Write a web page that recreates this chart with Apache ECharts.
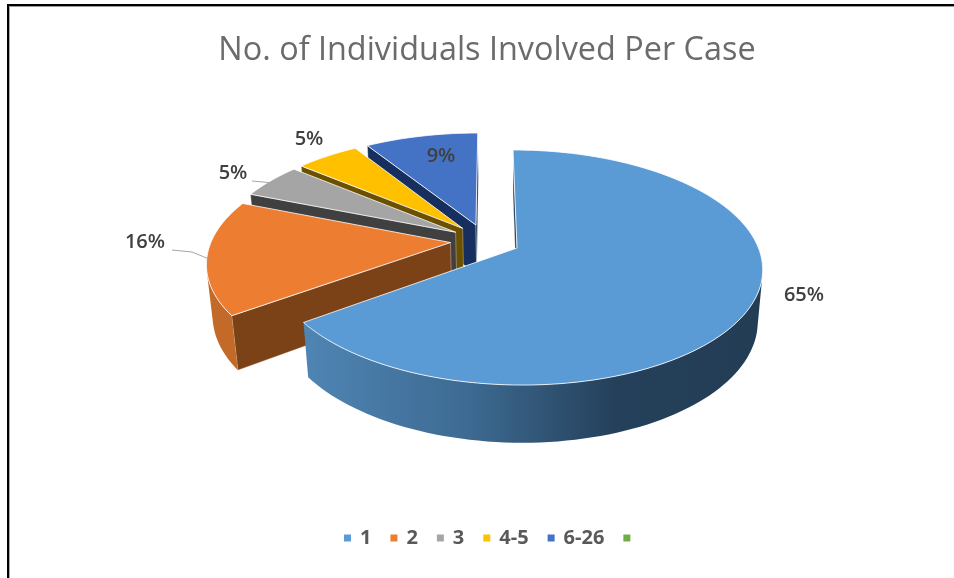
<!DOCTYPE html>
<html>
<head>
	<meta charset="utf-8">
	<title>No. of Individuals Involved Per Case</title>
	<script src="https://cdn.jsdelivr.net/npm/echarts@6/dist/echarts.min.js"></script>
	<style>
		html, body { margin: 0; padding: 0; background: #fff; }
	</style>
</head>
<body>
	<div id="main" style="width: 954px;height: 578px;"></div>
<script type="text/javascript">
	var categories = ['1', '2', '3', '4-5', '6-26', ' '];
	var shares = [65, 16, 5, 5, 9, 0];
	var percentLabels = ['65%', '16%', '5%', '5%', '9%', ''];

	var topColors = ['#5b9bd5', '#ed7d31', '#a5a5a5', '#ffc000', '#4472c4', '#70ad47'];
	var cutColors = ['#223d54', '#7a4216', '#404040', '#6b5000', '#172f5e', '#70ad47'];
	var rimColors = ['#223d54', '#c46a28', '#6e6e6e', '#a07a00', '#2c4a80', '#70ad47'];
	// where each percent label sits, and its leader line when it has one
	var labelPos = [[804, 295], [145, 242], [233, 173], [309, 139], [441, 156]];
	var leaders = [null, [[172, 250], [192, 252], [209, 259]], [[252, 181], [274, 183]], null, null];

	// perspective model of the pie, fitted to the picture
	var originX = 517, originY = 248;
	var scaleX = 241.5, scaleY = 114.3;
	var tilt = 0.166, sink = 0.02, depth = 52;
	var skew = 4.65;
	var explode = 0.147;

	var total = shares.reduce(function (a, b) { return a + b; }, 0);

	function startShare(idx) {
		var s = 0;
		for (var i = 0; i < idx; i++) s += shares[i];
		return s;
	}

	function ground(share) {
		var a = share / total * Math.PI * 2;
		return [Math.sin(a), -Math.cos(a)];
	}

	// offset of a slice's tip, measured from the tip of the first slice
	function tipOf(idx) {
		var mid = ground(startShare(idx) + shares[idx] / 2);
		var first = ground(shares[0] / 2);
		return [explode * (mid[0] - first[0]), explode * (mid[1] - first[1])];
	}

	function project(u, v, z) {
		var w = 1 - tilt * v + sink * z;
		return [originX + (scaleX * u + skew * v) / w, originY + (scaleY * v + depth * z) / w];
	}

	function area(pts) {
		var s = 0;
		for (var i = 0; i < pts.length; i++) {
			var p = pts[i], q = pts[(i + 1) % pts.length];
			s += p[0] * q[1] - q[0] * p[1];
		}
		return s / 2;
	}

	function sliceItem(idx) {
		var children = [];
		if (shares[idx] > 0) {
			var tip = tipOf(idx);
			var from = startShare(idx), to = from + shares[idx];
			var rim = [];
			var steps = Math.max(12, Math.round(shares[idx] * 2));
			for (var i = 0; i <= steps; i++) {
				var g = ground(from + (to - from) * i / steps);
				rim.push([tip[0] + g[0], tip[1] + g[1]]);
			}
			var first = rim[0], last = rim[rim.length - 1];

			// the two cut faces, only when they look at the viewer
			[[tip, first], [last, tip]].forEach(function (e) {
				var quad = [project(e[0][0], e[0][1], 0), project(e[1][0], e[1][1], 0),
					project(e[1][0], e[1][1], 1), project(e[0][0], e[0][1], 1)];
				if (area(quad) < 0) {
					children.push({
						type: 'polygon', shape: { points: quad },
						style: { fill: cutColors[idx], stroke: 'rgba(255,255,255,0.55)', lineWidth: 0.6 }
					});
				}
			});

			// outer wall, only the part of the rim facing front
			var up = [], down = [];
			for (var j = 0; j < rim.length; j++) {
				var a = project(rim[j][0], rim[j][1], 0);
				var b = project(rim[j][0], rim[j][1], 1);
				var n = rim[Math.min(j + 1, rim.length - 1)], m = rim[Math.max(j - 1, 0)];
				var quadR = [project(m[0], m[1], 0), project(n[0], n[1], 0), project(n[0], n[1], 1), project(m[0], m[1], 1)];
				if (area(quadR) < 0) {
					up.push(a);
					down.unshift(b);
				}
			}
			if (up.length > 1) {
				var wallFill = rimColors[idx];
				if (idx === 0) {
					wallFill = new echarts.graphic.LinearGradient(0, 0, 1, 0, [
						{ offset: 0, color: '#4f85b4' },
						{ offset: 0.36, color: '#3d6a92' },
						{ offset: 0.68, color: '#25405a' },
						{ offset: 1, color: '#223d54' }
					]);
				}
				children.push({
					type: 'polygon', shape: { points: up.concat(down) },
					style: { fill: wallFill }
				});
			}

			// top of the slice
			var topPts = [project(tip[0], tip[1], 0)];
			rim.forEach(function (r) { topPts.push(project(r[0], r[1], 0)); });
			children.push({
				type: 'polygon', shape: { points: topPts },
				style: { fill: topColors[idx], stroke: 'rgba(255,255,255,0.8)', lineWidth: 1 }
			});

			var lead = leaders[idx];
			if (lead) {
				children.push({
					type: 'polyline', shape: { points: lead },
					style: { fill: 'none', stroke: '#a6a6a6', lineWidth: 1 }
				});
			}
			children.push({
				type: 'text',
				style: {
					x: labelPos[idx][0], y: labelPos[idx][1],
					text: percentLabels[idx],
					align: 'center', verticalAlign: 'middle',
					font: '600 20px "Open Sans"', fill: '#404040'
				},
				z2: 10
			});
		}
		return { type: 'group', children: children };
	}

	var myChart = echarts.init(document.getElementById('main'), null, { renderer: 'canvas' });

	var option = {
		animation: false,
		backgroundColor: '#fff',
		color: topColors,
		title: {
			text: 'No. of Individuals Involved Per Case',
			left: 482, top: 30, textAlign: 'center',
			textStyle: { color: '#6b6b6b', fontFamily: 'Open Sans', fontWeight: 'normal', fontSize: 32.4 }
		},
		legend: {
			data: categories,
			bottom: 25, left: 339,
			icon: 'rect', itemWidth: 7, itemHeight: 7, itemGap: 19,
			textStyle: { color: '#595959', fontFamily: 'Open Sans', fontWeight: 'bold', fontSize: 20, padding: [0, 0, 0, 4] }
		},
		// only the top and left edges of the frame are in the picture
		graphic: [
			{ type: 'rect', silent: true, shape: { x: 7, y: 4, width: 947, height: 2 }, style: { fill: '#000' } },
			{ type: 'rect', silent: true, shape: { x: 9, y: 6, width: 945, height: 1 }, style: { fill: '#999' } },
			{ type: 'rect', silent: true, shape: { x: 7, y: 4, width: 2, height: 574 }, style: { fill: '#000' } },
			{ type: 'rect', silent: true, shape: { x: 9, y: 6, width: 1, height: 572 }, style: { fill: '#aaa' } }
		],
		series: categories.map(function (name, idx) {
			return {
				type: 'custom',
				name: name,
				// back slices first, the big one last
				z: idx === 5 ? 1 : 10 - idx,
				coordinateSystem: 'none',
				silent: true,
				data: [shares[idx]],
				renderItem: function () { return sliceItem(idx); }
			};
		})
	};
	myChart.setOption(option);
</script>
</body>
</html>
